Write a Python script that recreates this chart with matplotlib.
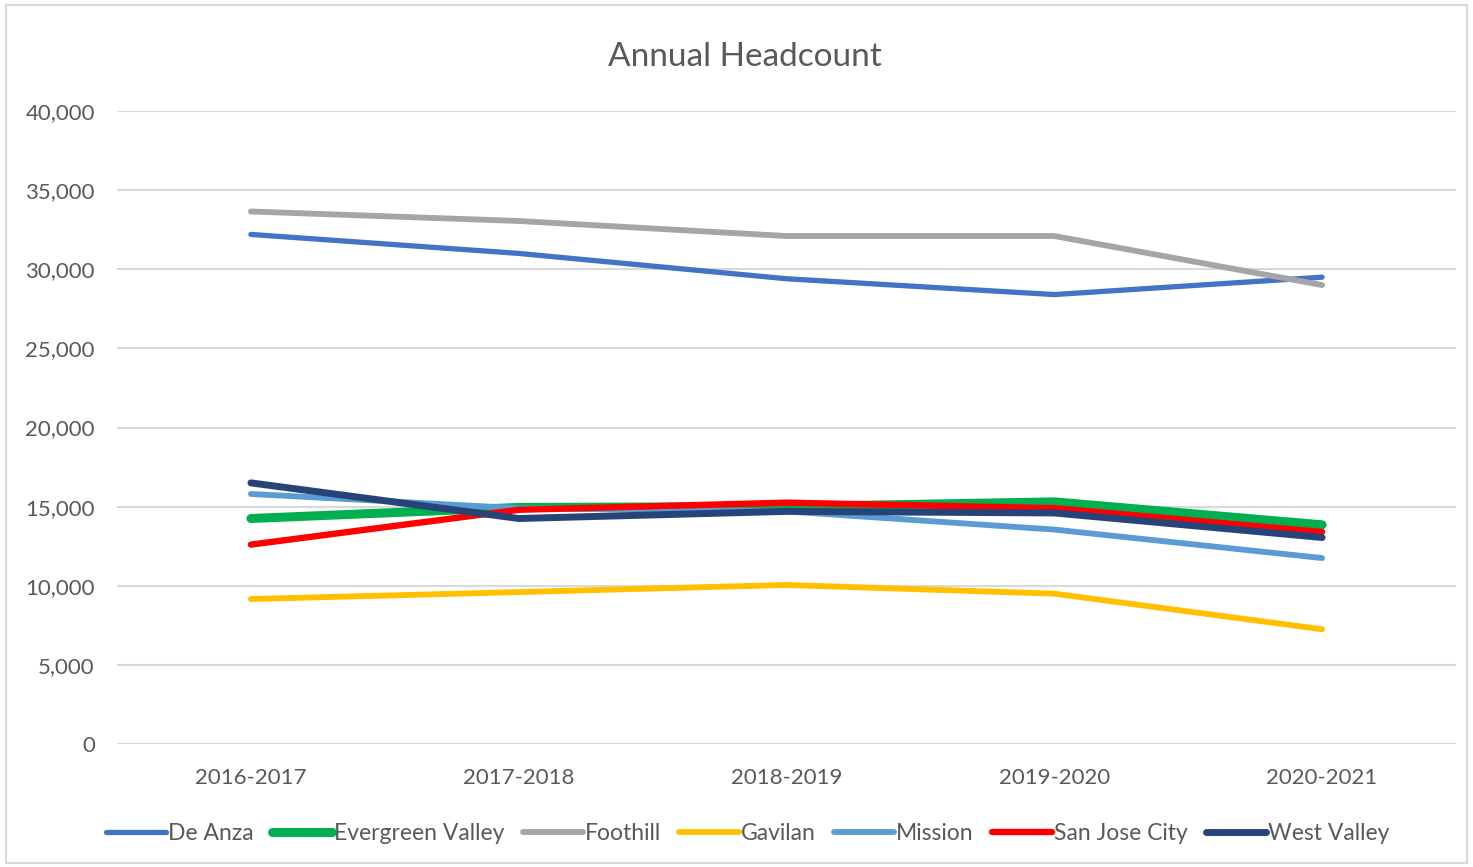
import matplotlib
matplotlib.use("Agg")
import matplotlib.pyplot as plt
from matplotlib.patches import Rectangle
from matplotlib.ticker import FuncFormatter

plt.rcParams["font.family"] = ["Lato", "DejaVu Sans"]

years = ["2016-2017", "2017-2018", "2018-2019", "2019-2020", "2020-2021"]

de_anza = [32200, 31000, 29400, 28400, 29500]
evergreen_valley = [14250, 14950, 15000, 15300, 13850]
foothill = [33650, 33050, 32100, 32100, 29000]
gavilan = [9160, 9600, 10050, 9500, 7250]
mission = [15800, 14900, 14700, 13550, 11750]
san_jose_city = [12600, 14800, 15250, 14900, 13400]
west_valley = [16500, 14250, 14700, 14600, 13050]

series = [
    ("De Anza", de_anza, "#4472C4", 3.8),
    ("Evergreen Valley", evergreen_valley, "#00B050", 6.5),
    ("Foothill", foothill, "#A5A5A5", 4.2),
    ("Gavilan", gavilan, "#FFC000", 4.2),
    ("Mission", mission, "#5B9BD5", 4.2),
    ("San Jose City", san_jose_city, "#FF0000", 4.6),
    ("West Valley", west_valley, "#264478", 5.0),
]

text_color = "#595959"
grid_color = "#D9D9D9"

fig = plt.figure(figsize=(14.73, 8.67), dpi=100)
ax = fig.add_axes([117 / 1473, 1 - 744 / 867, (1456 - 117) / 1473, (744 - 111) / 867])

x = range(len(years))
for name, vals, color, lw in series:
    ax.plot(x, vals, color=color, linewidth=lw, label=name,
            solid_capstyle="round", solid_joinstyle="round")

ax.set_xlim(-0.5, len(years) - 0.5)
ax.set_ylim(0, 40000)
ax.set_yticks(range(0, 40001, 5000))
ax.yaxis.set_major_formatter(FuncFormatter(lambda v, _: f"{int(v):,}"))
ax.set_xticks(list(x))
ax.set_xticklabels(years)
ax.tick_params(axis="both", length=0, labelsize=16, colors=text_color)
ax.tick_params(axis="x", pad=17)
ax.tick_params(axis="y", pad=16)
ax.grid(axis="y", color=grid_color, linewidth=1.5)
ax.set_axisbelow(True)
for s in ax.spines.values():
    s.set_visible(False)

fig.text(745 / 1473, 1 - 57 / 867, "Annual Headcount", ha="center", va="center",
         fontsize=24, color=text_color)

fig.legend(loc="center", bbox_to_anchor=(748 / 1473, 1 - 834 / 867), ncol=7,
           frameon=False, fontsize=16.5, handlelength=2.6, handletextpad=0.1,
           columnspacing=0.8, labelcolor=text_color)

fig.patches.append(Rectangle((6 / 1473, 4 / 867), 1461 / 1473, 858 / 867,
                             transform=fig.transFigure, fill=False,
                             edgecolor=grid_color, linewidth=1.5))

fig.savefig("out.png", dpi=100)
